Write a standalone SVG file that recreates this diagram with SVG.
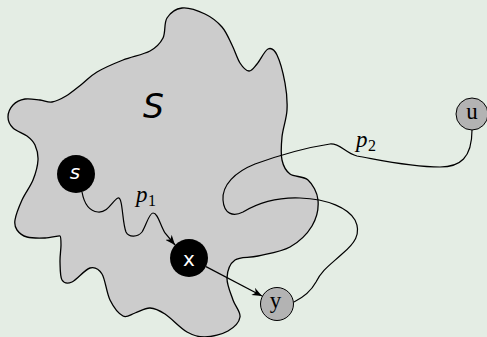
<svg xmlns="http://www.w3.org/2000/svg" width="487" height="337" viewBox="0 0 487 337">
<style>
.bg{fill:#e4ede4}
.blob{fill:#cccccc;stroke:#000;stroke-width:1.3}
.edge{fill:none;stroke:#000;stroke-width:1.2}
.dark{fill:#000}
.light{fill:#b3b3b3;stroke:#000;stroke-width:1}
.wt{fill:#fff;font-family:"DejaVu Sans",sans-serif;font-size:20px;text-anchor:middle}
.sr{fill:#000;font-family:"Liberation Serif",serif;font-size:23px;text-anchor:middle}
.lab{fill:#000;font-family:"Liberation Serif",serif;font-size:23px;font-style:italic}
.sub{fill:#000;font-family:"Liberation Serif",serif;font-size:16px}
</style>
<defs>
<marker id="arr" markerUnits="userSpaceOnUse" markerWidth="10" markerHeight="8" refX="10" refY="4" orient="auto">
<path d="M0,0 L10,4 L0,8 L3,4 z" fill="#000"/>
</marker>
</defs>
<rect class="bg" x="0" y="0" width="487" height="337"/>
<g id="region-S">
<path class="blob" d="M97,72 C103.8,68 114.2,63.5 123,60 C131.8,56.5 143.3,54.7 150,51 C156.7,47.3 160.2,43.5 163,38 C165.8,32.5 163.8,23 167,18 C170.2,13 175.7,8.7 182,8 C188.3,7.3 198.3,10.8 205,14 C211.7,17.2 217.5,21.8 222,27 C226.5,32.2 229,39 232,45 C235,51 237.2,58.7 240,63 C242.8,67.3 246.2,70.8 249,71 C251.8,71.2 253.8,67.7 257,64 C260.2,60.3 264.7,50.5 268,49 C271.3,47.5 274.2,49.3 277,55 C279.8,60.7 283.3,73.8 285,83 C286.7,92.2 287.5,101 287,110 C286.5,119 282.8,128.7 282,137 C281.2,145.3 280.7,153.8 282,160 C283.3,166.2 285.7,170.7 290,174 C294.3,177.3 303.3,175.7 308,180 C312.7,184.3 317.3,192.3 318,200 C318.7,207.7 316.7,218.2 312,226 C307.3,233.8 299,242 290,247 C281,252 267.2,253.8 258,256 C248.8,258.2 240.2,256.3 235,260 C229.8,263.7 227.3,271.3 227,278 C226.7,284.7 230.8,293.5 233,300 C235.2,306.5 240.8,311.8 240,317 C239.2,322.2 233.8,327.7 228,331 C222.2,334.3 211.8,336.8 205,337 C198.2,337.2 193.7,335.8 187,332 C180.3,328.2 171.2,318 165,314 C158.8,310 155,308.2 150,308 C145,307.8 139.5,311.7 135,313 C130.5,314.3 127.2,318.2 123,316 C118.8,313.8 113.5,307 110,300 C106.5,293 105.3,279.3 102,274 C98.7,268.7 95,266.7 90,268 C85,269.3 76.7,280 72,282 C67.3,284 64,283.3 62,280 C60,276.7 60.2,267.8 60,262 C59.8,256.2 61,249.3 61,245 C61,240.7 61,236.5 60,236 C59,235.5 50.5,237.8 45,238 C39.5,238.2 31.7,238.3 27,237 C22.3,235.7 19,232.8 17,230 C15,227.2 14.2,225 15,220 C15.8,215 19,206.7 22,200 C25,193.3 30.3,186.7 33,180 C35.7,173.3 37.7,165.8 38,160 C38.3,154.2 36.8,149 35,145 C33.2,141 30.7,138.8 27,136 C23.3,133.2 16.2,131.2 13,128 C9.8,124.8 8,120.8 8,117 C8,113.2 10.2,108 13,105 C15.8,102 20.5,99.8 25,99 C29.5,98.2 35.5,99.5 40,100 C44.5,100.5 47.7,102.7 52,102 C56.3,101.3 61,99 66,96 C71,93 76.8,88 82,84 C87.2,80 90.2,76 97,72 Z"/>
<text x="153.5" y="118" style="font-family:'DejaVu Sans',sans-serif;font-size:33px;font-style:oblique;text-anchor:middle">S</text>
</g>
<g id="connectors">
<path class="edge" marker-end="url(#arr)" d="M82,192 C84,203 88,211 98,212 C108,213 113,200 118,198 C123,197 122,222 126,232 C129,238 138,237 142,232 C146,226 149,213 153,213 C158,213 160,225 165,233 L175,245"/>
<line class="edge" marker-end="url(#arr)" x1="206" y1="266.6" x2="262" y2="296"/>
<path class="edge" d="M294,302 C300,299 310,293 316,282 C322,270 330,265 342,254 C354,244 362,234 355,220 C348,208 328,199 300,198 C275,197 258,203 243,212 C233,217 224,214 223,200 C222,185 235,172 255,164 C280,155 310,147 330,144 C340,143 345,153 357,156 C380,160 410,167 440,167 C460,167 472,158 472,130"/>
<text class="lab" x="136" y="202">p</text><text class="sub" x="148" y="206">1</text>
<text class="lab" x="356" y="147">p</text><text class="sub" x="368" y="151">2</text>
</g>
<g id="node-s">
<circle class="dark" cx="76" cy="174" r="19"/>
<text class="wt" x="75" y="179" font-style="oblique">s</text>
</g>
<g id="node-x">
<circle class="dark" cx="189" cy="258" r="19"/>
<text class="wt" x="189" y="266">x</text>
</g>
<g id="node-y">
<circle class="light" cx="277" cy="304" r="16.5"/>
<text class="sr" x="275.5" y="308">y</text>
</g>
<g id="node-u">
<circle class="light" cx="472" cy="114" r="16"/>
<text class="sr" x="472" y="119">u</text>
</g>
</svg>
